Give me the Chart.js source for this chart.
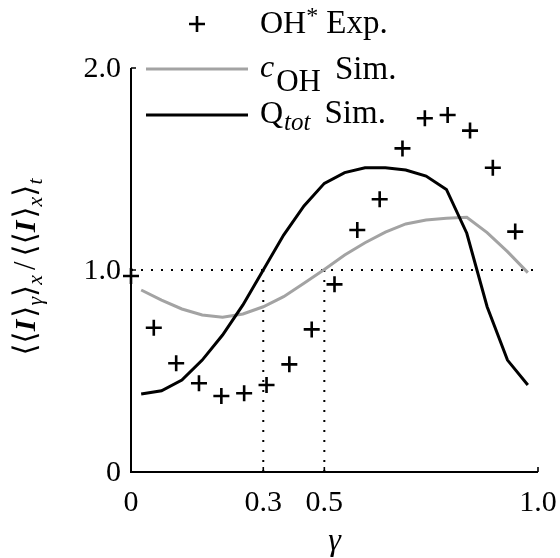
<!DOCTYPE html>
<html>
<head>
<meta charset="utf-8">
<script src="https://cdn.jsdelivr.net/npm/chart.js@4/dist/chart.umd.min.js"></script>
<style>
  html, body { margin: 0; padding: 0; background: #ffffff; }
  #wrap { width: 560px; height: 558px; }
</style>
</head>
<body>
<div id="wrap"><canvas id="chart" width="560" height="558"></canvas></div>
<script>
// Experimental OH* intensity, normalised
const expGamma = [0, 0.056, 0.111, 0.167, 0.222, 0.278, 0.333, 0.389, 0.444, 0.5,
                  0.556, 0.611, 0.667, 0.722, 0.778, 0.833, 0.889, 0.944];
const expOH = [0.970, 0.714, 0.538, 0.439, 0.376, 0.390, 0.431, 0.533, 0.706, 0.929,
               1.198, 1.350, 1.602, 1.751, 1.767, 1.690, 1.506, 1.190];

// Simulation results
const simGamma = [0.025, 0.075, 0.125, 0.175, 0.225, 0.275, 0.325, 0.375, 0.425, 0.475,
                  0.525, 0.575, 0.625, 0.675, 0.725, 0.775, 0.825, 0.875, 0.925, 0.975];
const simCOH = [0.901, 0.851, 0.807, 0.777, 0.766, 0.782, 0.818, 0.868, 0.934, 1.003,
                1.074, 1.135, 1.187, 1.228, 1.248, 1.256, 1.261, 1.185, 1.091, 0.987];
const simQtot = [0.386, 0.402, 0.455, 0.554, 0.678, 0.827, 1.000, 1.173, 1.317, 1.429,
                 1.482, 1.506, 1.506, 1.495, 1.465, 1.399, 1.182, 0.818, 0.554, 0.431];

// Axis ticks
const xTickValues = [0, 0.325, 0.475, 1.0];
const xTickLabels = ['0', '0.3', '0.5', '1.0'];
const yTickValues = [0, 1.0, 2.0];
const yTickLabels = ['0', '1.0', '2.0'];

// Dotted guide: unit level and the two crossing abscissae
const refLevel = 1.0;
const dropGammas = [xTickValues[1], xTickValues[2]];

const SERIF = '"Liberation Serif", "DejaVu Serif", serif';
const GREY = '#a3a3a3';

function pts(xs, ys) { return xs.map((x, i) => ({ x: x, y: ys[i] })); }

const dotted = {
  showLine: true, pointRadius: 0, borderColor: '#000', borderWidth: 2,
  borderDash: [2, 8], borderCapStyle: 'butt', fill: false, clip: false, order: 5
};

const datasets = [
  {
    label: 'OH* Exp.', data: pts(expGamma, expOH), showLine: false,
    pointStyle: 'cross', pointRadius: 8, pointHoverRadius: 8,
    borderColor: '#000', backgroundColor: '#000', pointBorderWidth: 2.6, borderWidth: 2.6,
    clip: false, order: 0
  },
  {
    label: 'Q_tot Sim.', data: pts(simGamma, simQtot), showLine: true, pointRadius: 0,
    borderColor: '#000', borderWidth: 3, tension: 0, fill: false, order: 1
  },
  {
    label: 'c_OH Sim.', data: pts(simGamma, simCOH), showLine: true, pointRadius: 0,
    borderColor: GREY, borderWidth: 3, tension: 0, fill: false, order: 2
  },
  Object.assign({ label: 'ref', data: [{ x: 0, y: refLevel }, { x: 1, y: refLevel }] }, dotted)
].concat(dropGammas.map(g => Object.assign({
  label: 'drop', data: [{ x: g, y: refLevel }, { x: g, y: 0 }]
}, dotted)));

// Draw a run of text pieces with individual fonts and vertical shifts
function richWidth(ctx, segs) {
  let w = 0;
  segs.forEach(s => { ctx.font = s.font; w += ctx.measureText(s.t).width + (s.gap || 0); });
  return w;
}
function drawRich(ctx, segs, x, y) {
  let cx = x;
  segs.forEach(s => {
    ctx.font = s.font;
    ctx.fillText(s.t, cx, y + (s.dy || 0));
    cx += ctx.measureText(s.t).width + (s.gap || 0);
  });
}

const axesPlugin = {
  id: 'axesPlugin',
  beforeDatasetsDraw(chart) {
    const ctx = chart.ctx, xs = chart.scales.x, ys = chart.scales.y;
    const x0 = xs.getPixelForValue(0), x1 = xs.getPixelForValue(1);
    const y0 = ys.getPixelForValue(0), y2 = ys.getPixelForValue(2);
    ctx.save();
    ctx.strokeStyle = '#000';
    ctx.lineWidth = 2;
    ctx.lineCap = 'butt';
    ctx.beginPath();
    ctx.moveTo(x0, y2); ctx.lineTo(x0, y0); ctx.lineTo(x1, y0);
    ctx.stroke();
    // inward ticks
    ctx.lineWidth = 1.6;
    ctx.beginPath();
    xTickValues.forEach(v => {
      const px = xs.getPixelForValue(v);
      ctx.moveTo(px, y0); ctx.lineTo(px, y0 - 5);
    });
    yTickValues.forEach(v => {
      const py = ys.getPixelForValue(v);
      ctx.moveTo(x0, py); ctx.lineTo(x0 + 5, py);
    });
    ctx.stroke();
    ctx.restore();
  },
  afterDraw(chart) {
    const ctx = chart.ctx, xs = chart.scales.x, ys = chart.scales.y;
    const x0 = xs.getPixelForValue(0), y0 = ys.getPixelForValue(0);
    ctx.save();
    ctx.fillStyle = '#000';

    // tick labels
    ctx.font = '30px ' + SERIF;
    ctx.textAlign = 'center';
    ctx.textBaseline = 'top';
    xTickValues.forEach((v, i) => ctx.fillText(xTickLabels[i], xs.getPixelForValue(v), y0 + 16));
    ctx.textAlign = 'right';
    ctx.textBaseline = 'middle';
    yTickValues.forEach((v, i) => ctx.fillText(yTickLabels[i], x0 - 10, ys.getPixelForValue(v) + 1));

    // x title
    ctx.textAlign = 'center';
    ctx.textBaseline = 'alphabetic';
    ctx.font = 'italic 32px ' + SERIF;
    ctx.fillText('\u03B3', (xs.left + xs.right) / 2, 550);

    // y title
    const br = '31px ' + SERIF, bi = 'italic bold 30px ' + SERIF, sub = 'italic 22px ' + SERIF;
    const ySegs = [
      { t: '\u27E8\u27E8', font: br }, { t: 'I', font: bi, gap: 2 }, { t: '\u27E9', font: br },
      { t: '\u03B3', font: sub, dy: 7 }, { t: '\u27E9', font: br }, { t: 'x', font: sub, dy: 7, gap: 5 },
      { t: '/', font: br, gap: 5 },
      { t: '\u27E8\u27E8', font: br }, { t: 'I', font: bi, gap: 2 }, { t: '\u27E9', font: br },
      { t: 'x', font: sub, dy: 7 }, { t: '\u27E9', font: br }, { t: 't', font: sub, dy: 7 }
    ];
    ctx.textAlign = 'left';
    ctx.save();
    ctx.translate(35, 267);
    ctx.rotate(-Math.PI / 2);
    drawRich(ctx, ySegs, -richWidth(ctx, ySegs) / 2, 0);
    ctx.restore();

    // legend
    const lx0 = 146, lx1 = 248;
    const rows = [
      { y: 24, base: 33, kind: 'marker', segs: [
        { t: 'OH', font: '32px ' + SERIF }, { t: '*', font: '24px ' + SERIF, dy: -10, gap: 8 },
        { t: 'Exp.', font: '33px ' + SERIF }] },
      { y: 69, base: 79, kind: 'line', color: GREY, segs: [
        { t: 'c', font: 'italic 32px ' + SERIF, dy: -2, gap: 2 }, { t: 'OH', font: '31px ' + SERIF, dy: 12, gap: 14 },
        { t: 'Sim.', font: '33px ' + SERIF }] },
      { y: 115, base: 123, kind: 'line', color: '#000', segs: [
        { t: 'Q', font: '32px ' + SERIF, gap: 1 }, { t: 'tot', font: 'italic 25px ' + SERIF, dy: 7, gap: 14 },
        { t: 'Sim.', font: '33px ' + SERIF }] }
    ];
    rows.forEach(r => {
      if (r.kind === 'marker') {
        const cx = (lx0 + lx1) / 2;
        ctx.strokeStyle = '#000';
        ctx.lineWidth = 2.6;
        ctx.beginPath();
        ctx.moveTo(cx - 8, r.y); ctx.lineTo(cx + 8, r.y);
        ctx.moveTo(cx, r.y - 8); ctx.lineTo(cx, r.y + 8);
        ctx.stroke();
      } else {
        ctx.strokeStyle = r.color;
        ctx.lineWidth = 3;
        ctx.beginPath();
        ctx.moveTo(lx0, r.y); ctx.lineTo(lx1, r.y);
        ctx.stroke();
      }
      drawRich(ctx, r.segs, 260, r.base);
    });
    ctx.restore();
  }
};

new Chart(document.getElementById('chart'), {
  type: 'scatter',
  data: { datasets: datasets },
  options: {
    responsive: false,
    animation: false,
    devicePixelRatio: 1,
    layout: { padding: { left: 131, right: 22, top: 68, bottom: 86 } },
    plugins: { legend: { display: false }, tooltip: { enabled: false } },
    scales: {
      x: { type: 'linear', min: 0, max: 1, display: false },
      y: { type: 'linear', min: 0, max: 2, display: false }
    }
  },
  plugins: [axesPlugin]
});
</script>
</body>
</html>
